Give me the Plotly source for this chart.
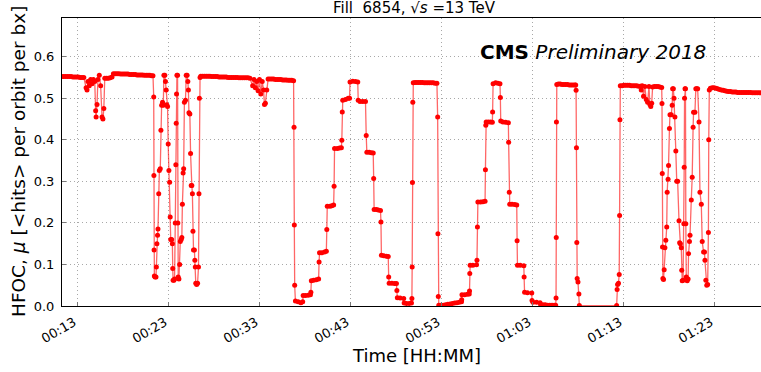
import plotly.graph_objects as go
import pandas as pd

# Time in minutes after 00:00 and HFOC mu values (segment by segment)
A_t = [11.35, 11.55, 11.75, 11.95, 12.15, 12.35, 12.55, 12.75, 12.95, 13.15, 13.35, 13.55, 13.75,
       14.0, 14.1, 14.2, 14.35, 14.5, 14.65, 14.8, 14.95, 15.05, 15.1, 15.2, 15.3, 15.45, 15.6,
       15.75, 15.85, 15.95, 16.05, 16.25, 16.45, 16.65, 16.85,
       17.0, 17.2, 17.4, 17.6, 17.8, 18.0, 18.2, 18.4, 18.6, 18.8, 19.0, 19.2, 19.4, 19.6, 19.8,
       20.0, 20.2, 20.4, 20.6, 20.8, 21.0, 21.2, 21.35]
A_v = [.552, .552, .552, .552, .552, .552, .551, .551, .551, .551, .550, .550, .550,
       .525, .520, .540, .530, .545, .535, .545, .540, .470, .455, .485, .545, .555, .530,
       .455, .450, .475, .548, .548, .548, .549, .551,
       .559, .559, .559, .559, .558, .558, .558, .558, .558, .557, .557, .557, .557, .556, .556,
       .556, .556, .555, .555, .555, .555, .554, .554]

B_t = [21.43, 21.45, 21.47, 21.50, 21.58, 21.68, 21.72, 21.78, 21.85, 21.90,
       21.98, 22.05, 22.15, 22.22, 22.30, 22.40, 22.48, 22.55, 22.65, 22.72,
       22.80, 22.86, 22.95, 23.02, 23.10, 23.18, 23.24, 23.30, 23.40, 23.48,
       23.52, 23.56, 23.65, 23.72, 23.80, 23.86, 23.90, 23.94, 23.98, 24.05,
       24.08, 24.12, 24.20, 24.28, 24.35, 24.45, 24.52, 24.58, 24.66, 24.72,
       24.80, 24.92, 25.00, 25.10, 25.18, 25.24, 25.30, 25.40, 25.48, 25.55,
       25.62, 25.68, 25.74, 25.80, 25.90, 25.95, 26.00, 26.05, 26.15, 26.25,
       26.35, 26.40, 26.45, 26.52]
B_v = [.503, .314, .135, .072, .070, .070, .094, .150, .170, .185,
       .270, .326, .330, .423, .483, .490, .483, .555, .555, .540,
       .520, .484, .480, .390, .326, .298, .214, .160, .160, .150,
       .090, .062, .062, .065, .200, .340, .440, .510, .555, .555,
       .200, .070, .065, .100, .155, .160, .165, .245, .320, .330,
       .490, .495, .555, .555, .540, .520, .465, .462, .367, .290,
       .290, .270, .180, .135, .135, .110, .094, .055, .052, .055,
       .094, .270, .500, .550]

C_t = [26.6, 26.8, 27.0, 27.2, 27.4, 27.6, 27.8, 28.0, 28.2, 28.4, 28.6, 28.8, 29.0, 29.2,
       29.4, 29.6, 29.8, 30.0, 30.2, 30.4, 30.6, 30.8, 31.0, 31.2, 31.4, 31.6, 31.8, 32.0,
       32.3, 32.45, 32.6, 32.75, 32.9, 33.05, 33.2, 33.35, 33.5, 33.6, 33.7, 33.85,
       34.0, 34.2, 34.4, 34.6, 34.8, 35.0, 35.2, 35.4, 35.6, 35.8, 36.0, 36.2, 36.4, 36.6, 36.8,
       36.85, 36.88, 36.92, 37.0]
C_v = [.553, .553, .553, .553, .553, .553, .552, .552, .552, .552, .551, .551, .551, .551,
       .551, .550, .550, .550, .550, .550, .550, .549, .549, .549, .549, .549, .549, .548,
       .530, .545, .525, .540, .518, .545, .510, .540, .520, .485, .488, .520,
       .546, .546, .546, .546, .545, .545, .545, .545, .544, .544, .544, .543, .543, .543, .542,
       .430, .195, .050, .012]

D_t = [37.3, 37.6, 37.8, 37.85, 38.1, 38.4, 38.65, 38.7, 38.75, 39.0,
       39.3, 39.55, 39.6, 39.65, 39.9, 40.2, 40.4, 40.45, 40.5, 40.8,
       41.0, 41.2, 41.25, 41.3, 41.6, 41.85, 42.05, 42.1, 42.15, 42.2,
       42.5, 42.8, 42.95, 43.0, 43.3, 43.6, 43.85, 43.9, 44.1, 44.4,
       44.7, 44.78, 44.85, 45.1, 45.35, 45.55, 45.6, 45.65, 45.9, 46.1,
       46.35, 46.4, 46.45, 46.7, 47.0, 47.2, 47.25, 47.3, 47.6, 47.9,
       48.1, 48.15, 48.2, 48.5, 48.9, 48.95, 49.2, 49.5, 49.75]
D_v = [.010, .008, .010, .025, .025, .026, .027, .033, .061, .062,
       .063, .065, .106, .128, .128, .130, .132, .184, .240, .240,
       .241, .243, .288, .379, .379, .380, .381, .399, .467, .495,
       .497, .500, .500, .539, .541, .540, .539, .495, .492, .492,
       .492, .410, .370, .370, .369, .368, .307, .232, .232, .231,
       .230, .202, .122, .121, .120, .119, .070, .055, .055, .054,
       .054, .037, .020, .019, .018, .007, .006, .006, .007]

E_t = [49.8, 49.83, 49.86, 49.9,
       49.95, 50.15, 50.35, 50.55, 50.75, 50.95, 51.15, 51.35, 51.55, 51.75, 51.95, 52.15, 52.35, 52.55,
       52.63, 52.66, 52.7, 52.75,
       53.0, 53.25, 53.5, 53.75, 54.0, 54.25, 54.5, 54.75, 55.0, 55.25]
E_v = [.018, .094, .297, .490,
       .537, .538, .538, .538, .538, .538, .537, .537, .537, .537, .537, .537, .536, .536,
       .455, .174, .023, .002,
       .002, .002, .003, .004, .005, .006, .007, .008, .009, .010]

F_t = [55.27, 55.3, 55.6, 55.9, 56.1, 56.13, 56.16, 56.2, 56.5, 56.9,
       56.95, 57.0, 57.05, 57.35, 57.6, 57.84, 57.88, 57.92, 57.96, 58.2,
       58.45, 58.64, 58.67, 58.72, 59.0, 59.25, 59.48, 59.52, 59.56, 59.8,
       60.1, 60.4, 60.43, 60.5, 60.55, 60.8, 61.1, 61.32, 61.36, 61.4,
       61.7, 62.1, 62.13, 62.18, 62.5, 62.97, 63.0, 63.1, 63.5, 63.88]
F_v = [.015, .027, .027, .028, .029, .036, .078, .098, .098, .099,
       .110, .190, .250, .250, .251, .252, .328, .435, .443, .443,
       .443, .442, .467, .535, .537, .536, .535, .502, .445, .443,
       .442, .441, .394, .274, .245, .245, .244, .243, .157, .098,
       .098, .097, .070, .033, .032, .031, .013, .009, .009, .008]

G_t = [63.95, 64.2, 64.45, 64.7, 64.95, 65.2, 65.45, 65.6, 65.64, 65.66, 65.68,
       65.72, 65.9, 66.1, 66.3, 66.5, 66.7, 66.9, 67.1, 67.3, 67.5, 67.7, 67.8,
       67.84, 67.88, 67.92, 67.96, 68.05, 68.15, 68.2, 72.3]
G_v = [.003, .003, .003, .002, .002, .002, .002, .002, .019, .165, .443,
       .533, .534, .534, .533, .533, .533, .533, .532, .532, .532, .532, .532,
       .519, .381, .153, .066, .058, .029, .001, .001]

H_t = [72.35, 72.4, 72.5, 72.58, 72.62, 72.66,
       72.7, 72.9, 73.1, 73.3, 73.5, 73.7, 73.9, 74.1, 74.3, 74.5, 74.7, 74.9,
       75.0, 75.1, 75.25, 75.4, 75.55, 75.7, 75.85, 75.95, 76.05, 76.15, 76.25,
       76.45, 76.65, 76.85, 77.05, 77.25]
H_v = [.040, .052, .055, .076, .218, .448,
       .530, .530, .531, .531, .531, .531, .530, .530, .530, .530, .529, .529,
       .520, .530, .505, .528, .497, .490, .528, .485, .480, .488, .527,
       .528, .528, .528, .527, .526]

I_t = [77.28, 77.31, 77.34, 77.38, 77.45, 77.52, 77.6, 77.7, 77.8, 77.85,
       77.95, 78.0, 78.1, 78.16, 78.3, 78.4, 78.45, 78.53, 78.6, 78.7,
       78.8, 78.9, 79.0, 79.15, 79.22, 79.3, 79.4, 79.45, 79.5, 79.6,
       79.68, 79.72, 79.76, 79.81, 79.86, 79.9, 79.95, 80.05, 80.15, 80.2,
       80.3, 80.36, 80.5, 80.6, 80.7, 80.75, 80.9, 81.0, 81.1, 81.2,
       81.35, 81.45, 81.6, 81.7, 81.85, 81.95, 82.0, 82.1, 82.2, 82.3,
       82.38, 82.42, 82.48]
I_v = [.487, .319, .142, .066, .064, .087, .140, .158, .190, .274,
       .305, .338, .427, .460, .460, .483, .523, .523, .500, .455,
       .373, .300, .300, .205, .152, .150, .140, .086, .061, .062,
       .198, .334, .500, .523, .523, .198, .070, .061, .065, .126,
       .155, .170, .255, .310, .430, .466, .466, .523, .523, .523,
       .443, .274, .245, .155, .130, .130, .110, .062, .050, .052,
       .177, .400, .520]

J_t = [82.6, 82.8, 83.0, 83.2, 83.4, 83.6, 83.8, 84.0, 84.2, 84.4, 84.6, 84.8, 85.0, 85.2, 85.4,
       85.6, 85.8, 86.0, 86.2, 86.4, 86.6, 86.8, 87.0, 87.2, 87.4, 87.6, 87.8, 88.0, 88.2]
J_v = [.524, .525, .525, .524, .523, .521, .520, .519, .518, .517, .516, .516, .515, .515, .515,
       .514, .514, .514, .514, .514, .514, .514, .514, .513, .513, .513, .513, .513, .513]

tick_minutes = [13, 23, 33, 43, 53, 63, 73, 83]
x_range_minutes = [11.352, 88.16]
y_range = [0, 0.693]

minutes = A_t + B_t + C_t + D_t + E_t + F_t + G_t + H_t + I_t + J_t
values = A_v + B_v + C_v + D_v + E_v + F_v + G_v + H_v + I_v + J_v
assert len(minutes) == len(values), (len(minutes), len(values))

base = pd.Timestamp("2018-06-30 00:00:00")
times = base + pd.to_timedelta(minutes, unit="m")
tickvals = [base + pd.Timedelta(minutes=m) for m in tick_minutes]
ticktext = [t.strftime("%H:%M") for t in tickvals]
xr = [base + pd.Timedelta(minutes=m) for m in x_range_minutes]

FONT = "DejaVu Sans"
fig = go.Figure(go.Scatter(
    x=times, y=values, mode="lines+markers",
    line=dict(color="rgba(255,0,0,0.6)", width=1.3),
    marker=dict(color="#ff0000", size=5),
    showlegend=False,
))

W, H = 761, 372
ML, MR, MT, MB = 62, 0, 18, 66
GRID = "#a8a8a8"
fig.update_layout(
    width=W, height=H,
    margin=dict(l=ML, r=MR, t=MT, b=MB),
    paper_bgcolor="white", plot_bgcolor="white",
    font=dict(family=FONT, color="black", size=13),
)
fig.update_xaxes(
    type="date", range=xr,
    tickvals=tickvals, ticktext=ticktext, tickangle=-30,
    ticks="inside", ticklen=4, tickcolor="#777777",
    showline=True, linecolor="black", linewidth=1, mirror=True,
    showgrid=True, gridcolor=GRID, griddash="1px,3px", gridwidth=1,
    tickfont=dict(size=13, family=FONT),
    ticklabelshift=-3, ticklabelstandoff=3,
)
fig.update_yaxes(
    range=y_range, dtick=0.1, tick0=0, tickformat=".1f",
    ticks="inside", ticklen=4, tickcolor="#777777",
    showline=True, linecolor="black", linewidth=1,
    showgrid=True, gridcolor=GRID, griddash="1px,3px", gridwidth=1,
    zeroline=False,
    tickfont=dict(size=13, family=FONT),
    ticklabelstandoff=4,
)

pw = W - ML - MR
ph = H - MT - MB
def px_x(x):
    return (x - ML) / pw
def px_y(y):
    return (H - MB - y) / ph

fig.add_annotation(text="Fill\u00a0\u00a06854, \u221a<i>s</i> =13 TeV", xref="paper", yref="paper",
                   x=px_x(415), y=px_y(8.5), xanchor="center", yanchor="middle",
                   showarrow=False, font=dict(size=15, family=FONT))
fig.add_annotation(text="<b>CMS</b> <i>Preliminary 2018</i>", xref="paper", yref="paper",
                   x=px_x(478), y=px_y(52.5), xanchor="left", yanchor="middle",
                   showarrow=False, font=dict(size=20, family=FONT))
fig.add_annotation(text="Time [HH:MM]", xref="paper", yref="paper",
                   x=px_x(416), y=px_y(355), xanchor="center", yanchor="middle",
                   showarrow=False, font=dict(size=18, family=FONT))
fig.add_annotation(text="HFOC, <i>\u03bc</i> [&lt;hits&gt; per orbit per bx]", xref="paper", yref="paper",
                   x=px_x(18), y=px_y(162), xanchor="center", yanchor="middle", textangle=-90,
                   showarrow=False, font=dict(size=18.5, family=FONT))

fig.write_html("out.html")
